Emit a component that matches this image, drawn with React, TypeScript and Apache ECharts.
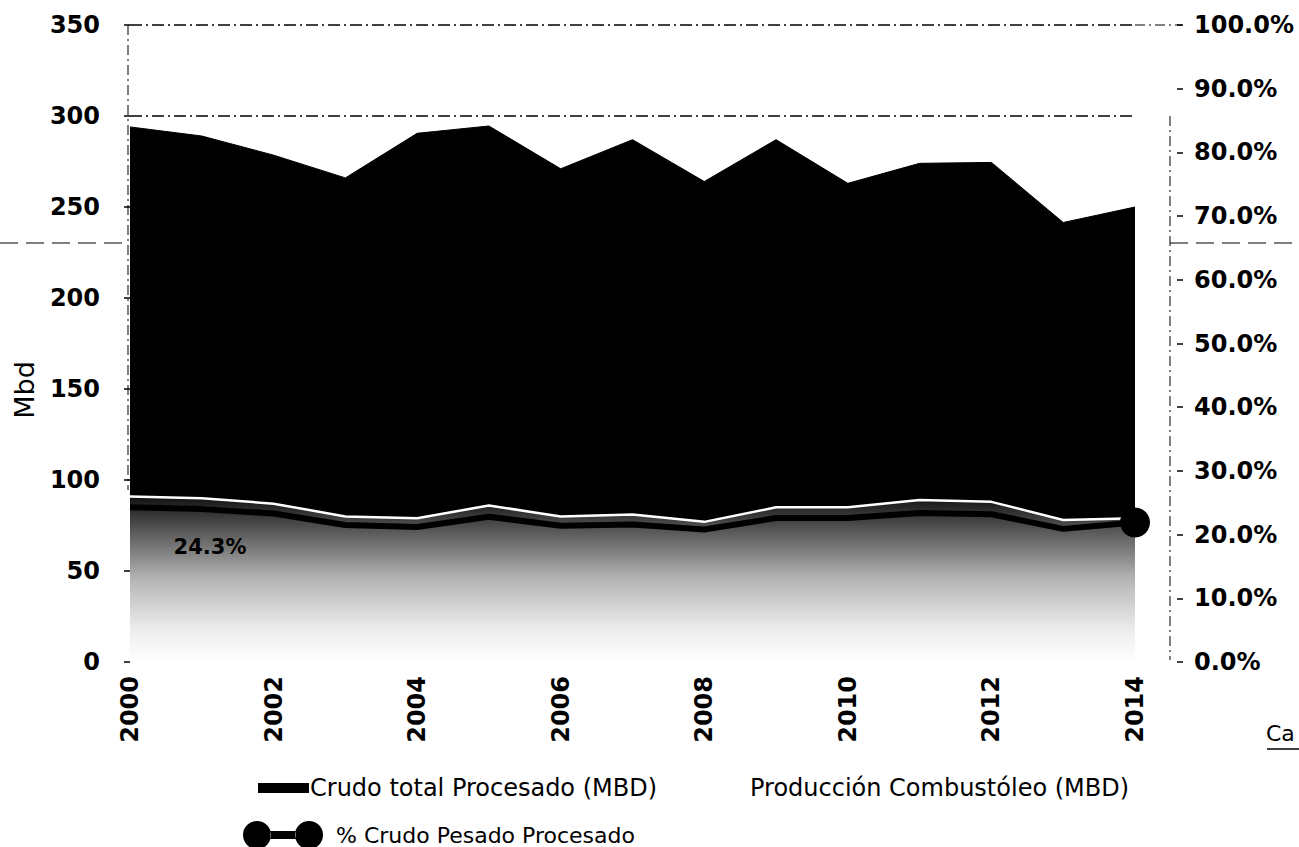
import React, { useEffect, useRef } from "react";
import * as echarts from "echarts";

const years = ["2000","2001","2002","2003","2004","2005","2006","2007","2008","2009","2010","2011","2012","2013","2014"];
const crudoTotal = [294, 289, 278.5, 266, 290.5, 294.5, 271, 287, 264, 287, 263, 274, 274.5, 241.5, 250];
const combustoleo = [91, 90, 87, 80, 79, 86, 80, 81, 77, 85, 85, 89, 88, 78, 79];
const pctPesado = [24.3, 24.0, 23.3, 21.5, 21.2, 22.8, 21.4, 21.6, 20.8, 22.6, 22.6, 23.4, 23.2, 20.9, 21.9];
const leftTicks = { min: 0, max: 350, interval: 50 };
const rightTicks = { min: 0, max: 1, interval: 0.1 };
const refLines = [350, 300];

const FONT = "DejaVu Sans";

export default function App() {
  const ref = useRef<HTMLDivElement>(null);
  useEffect(() => {
    if (!ref.current) return;
    const chart = echarts.init(ref.current, null, { renderer: "svg" });
    const last = pctPesado.length - 1;
    const dumbbell =
      "path://M14,0 A14,14 0 1 0 14,28 A14,14 0 1 0 14,0 Z M66,0 A14,14 0 1 0 66,28 A14,14 0 1 0 66,0 Z M27.5,10 L52.5,10 L52.5,18 L27.5,18 Z";
    chart.setOption({
      animation: false,
      backgroundColor: "#ffffff",
      textStyle: { fontFamily: FONT, color: "#000" },
      grid: { left: 130, right: 164, top: 25, bottom: 185, containLabel: false },
      legend: [
        {
          left: 253, top: 771, itemWidth: 51, itemHeight: 10, itemGap: 0,
          icon: "rect",
          data: ["Crudo total Procesado (MBD)"],
          itemStyle: { color: "#000", borderWidth: 0 },
          lineStyle: { width: 0 },
          textStyle: { fontFamily: FONT, fontSize: 24, color: "#000", padding: [0, 0, 0, -4] },
        },
        {
          left: 690, top: 771, itemWidth: 50, itemHeight: 9,
          icon: "rect",
          data: ["Producción Combustóleo (MBD)"],
          textStyle: { fontFamily: FONT, fontSize: 24, color: "#000" },
          itemStyle: { color: "#ffffff", borderWidth: 0 },
          lineStyle: { width: 0 },
        },
        {
          left: 238, top: 816, itemWidth: 80, itemHeight: 28,
          icon: dumbbell,
          data: ["% Crudo Pesado Procesado"],
          itemStyle: { color: "#000", borderWidth: 0 },
          lineStyle: { width: 0 },
          textStyle: { fontFamily: FONT, fontSize: 22, color: "#000", padding: [0, 0, 0, 8] },
        },
      ],
      xAxis: {
        type: "category",
        data: years,
        boundaryGap: false,
        axisLine: { show: false },
        axisTick: { show: false },
        axisLabel: {
          rotate: 90, interval: 1, margin: 14,
          fontFamily: FONT, fontSize: 24, fontWeight: "bold", color: "#000",
        },
        splitLine: { show: false },
      },
      yAxis: [
        {
          type: "value", ...leftTicks,
          axisLine: { show: false },
          axisTick: { show: true, length: 6, lineStyle: { color: "#000", width: 1.5 } },
          axisLabel: { margin: 30, fontFamily: FONT, fontSize: 24, fontWeight: "bold", color: "#000" },
          splitLine: { show: false },
        },
        {
          type: "value", ...rightTicks, position: "right", offset: 42,
          axisLine: { show: false },
          axisTick: { show: true, length: 6, inside: false, lineStyle: { color: "#000", width: 1.5 } },
          axisLabel: {
            margin: 17, fontFamily: FONT, fontSize: 24, fontWeight: "bold", color: "#000",
            formatter: (v: number) => (v * 100).toFixed(1) + "%",
          },
          splitLine: { show: false },
        },
      ],
      graphic: [
        { type: "line", shape: { x1: 128, y1: 25, x2: 128, y2: 490 }, style: { stroke: "#000", lineWidth: 1, lineDash: [10, 4, 2, 4] }, z: 10 },
        { type: "line", shape: { x1: 1170, y1: 116, x2: 1170, y2: 660 }, style: { stroke: "#000", lineWidth: 1, lineDash: [10, 4, 2, 4] }, z: 10 },
        { type: "line", shape: { x1: 1135, y1: 25, x2: 1182, y2: 25 }, style: { stroke: "#000", lineWidth: 1, lineDash: [10, 4, 2, 4] }, z: 10 },
        { type: "line", shape: { x1: 0, y1: 243, x2: 140, y2: 243 }, style: { stroke: "#000", lineWidth: 1, lineDash: [18, 8] }, z: 10 },
        { type: "line", shape: { x1: 1170, y1: 243, x2: 1299, y2: 243 }, style: { stroke: "#000", lineWidth: 1, lineDash: [18, 8] }, z: 10 },
        {
          type: "text", x: 24, y: 390, rotation: Math.PI / 2,
          style: { text: "Mbd", fontFamily: FONT, fontSize: 27, fill: "#000", align: "center", verticalAlign: "middle" },
        },
        { type: "text", left: 1266, top: 722, style: { text: "Ca", fontFamily: FONT, fontSize: 22, fill: "#000" } },
        { type: "line", shape: { x1: 1267, y1: 749, x2: 1299, y2: 749 }, style: { stroke: "#000", lineWidth: 1.5 } },
      ],
      series: [
        {
          name: "Crudo total Procesado (MBD)",
          type: "line",
          data: crudoTotal,
          yAxisIndex: 0,
          symbol: "none",
          lineStyle: { color: "#000", width: 1 },
          itemStyle: { color: "#000" },
          areaStyle: { color: "#000", opacity: 1 },
          z: 1,
          markLine: {
            silent: true, symbol: "none",
            label: { show: false },
            lineStyle: { color: "#000", width: 1.5, type: [12, 4, 2, 4] },
            data: refLines.map((v) => ({ yAxis: v })),
          },
        },
        {
          name: "Producción Combustóleo (MBD)",
          type: "line",
          data: combustoleo,
          yAxisIndex: 0,
          symbol: "none",
          lineStyle: { color: "#ffffff", width: 2.5 },
          itemStyle: { color: "#ffffff" },
          areaStyle: {
            opacity: 1,
            color: new echarts.graphic.LinearGradient(0, 0, 0, 1, [
              { offset: 0, color: "#111111" },
              { offset: 0.2, color: "#555555" },
              { offset: 0.5, color: "#b5b5b5" },
              { offset: 0.8, color: "#ececec" },
              { offset: 1, color: "#ffffff" },
            ]),
          },
          z: 2,
        },
        {
          name: "% Crudo Pesado Procesado",
          type: "line",
          yAxisIndex: 1,
          data: pctPesado.map((v, i) =>
            i === 0
              ? {
                  value: v / 100,
                  label: {
                    show: true, position: "bottom", offset: [80, 24],
                    fontFamily: FONT, fontSize: 21, fontWeight: "bold", color: "#000",
                    formatter: () => v.toFixed(1) + "%",
                  },
                }
              : v / 100
          ),
          symbol: "circle",
          showAllSymbol: true,
          symbolSize: (_v: any, p: any) => (p.dataIndex === last ? 30 : 0),
          lineStyle: { color: "#000", width: 6 },
          itemStyle: { color: "#000" },
          z: 3,
        },
      ],
    });
    return () => chart.dispose();
  }, []);
  return <div ref={ref} style={{ width: 1299, height: 847, position: "absolute", left: 0, top: 0 }} />;
}
